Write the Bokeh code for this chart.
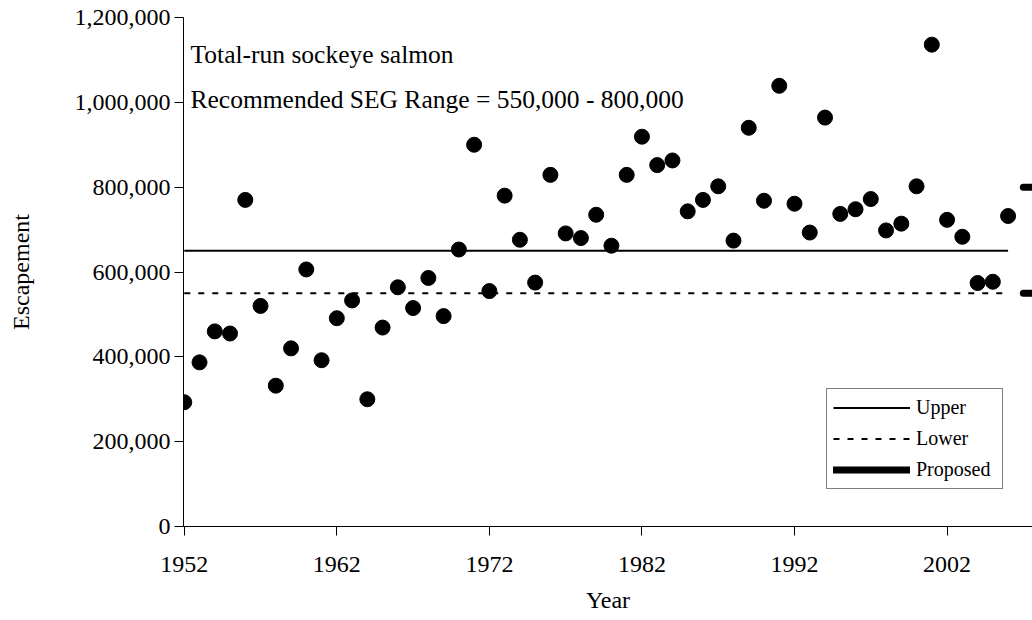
from bokeh.plotting import figure
from bokeh.models import (Range1d, FixedTicker, NumeralTickFormatter, Legend,
                          LegendItem, Label)
from bokeh.embed import file_html
from bokeh.resources import INLINE

# ---------------- data ----------------
years = list(range(1952, 2007))
escapement = [
    293000, 387000, 460000, 455000, 770000, 520000, 332000, 420000, 606000, 392000,
    491000, 533000, 300000, 469000, 564000, 515000, 586000, 496000, 653000, 900000,
    555000, 780000, 676000, 575000, 829000, 691000, 680000, 735000, 662000, 829000,
    919000, 852000, 863000, 743000, 770000, 802000, 674000, 940000, 768000, 1039000,
    761000, 693000, 964000, 737000, 748000, 772000, 698000, 714000, 802000, 1136000,
    723000, 683000, 574000, 577000, 732000,
]
upper_years = [1952, 2006]
upper_values = [650000, 650000]
lower_years = [1952, 2006]
lower_values = [550000, 550000]
proposed_start = [2007, 2007]
proposed_end = [2008, 2008]
proposed_values = [800000, 550000]

x_ticks = [1952, 1962, 1972, 1982, 1992, 2002]
y_ticks = [0, 200000, 400000, 600000, 800000, 1000000, 1200000]

title_line1 = "Total-run sockeye salmon"
title_line2 = "Recommended SEG Range = 550,000 - 800,000"

FONT = "Liberation Serif"

# ---------------- figure ----------------
p = figure(width=1032, height=620, output_backend="svg", toolbar_location=None,
           x_range=Range1d(1951.95, 2007.6), y_range=Range1d(0, 1200000),
           min_border_left=183, min_border_right=0, min_border_top=17,
           min_border_bottom=94)
p.outline_line_color = None
p.xgrid.grid_line_color = None
p.ygrid.grid_line_color = None
p.background_fill_color = "white"
p.border_fill_color = "white"

# axes
p.xaxis.ticker = FixedTicker(ticks=x_ticks)
p.yaxis.ticker = FixedTicker(ticks=y_ticks)
p.yaxis.formatter = NumeralTickFormatter(format="0,0")
for ax in (p.xaxis[0], p.yaxis[0]):
    ax.axis_line_color = "black"
    ax.axis_line_width = 1
    ax.major_tick_line_color = "black"
    ax.major_tick_out = 9
    ax.major_tick_in = 0
    ax.minor_tick_line_color = None
    ax.major_label_text_font = FONT
    ax.major_label_text_font_size = "24px"
    ax.major_label_text_color = "black"
    ax.axis_label_text_font = FONT
    ax.axis_label_text_font_size = "24px"
    ax.axis_label_text_font_style = "normal"
    ax.axis_label_text_color = "black"
p.xaxis.axis_label = "Year"
p.yaxis.axis_label = "Escapement"
p.xaxis.major_label_standoff = 21
p.xaxis.axis_label_standoff = 12
p.yaxis.major_label_standoff = 4
p.yaxis.axis_label_standoff = 38

# lines
r_upper = p.line(upper_years, upper_values, line_color="black", line_width=2)
r_lower = p.line(lower_years, lower_values, line_color="black", line_width=2,
                 line_dash="6 8")
r_prop = p.segment(x0=proposed_start, x1=proposed_end, y0=proposed_values,
                   y1=proposed_values, line_color="black", line_width=7,
                   line_cap="round")

# points
p.scatter(years, escapement, size=15, marker="circle", fill_color="black",
          line_color="black")

# annotations
p.add_layout(Label(x=7, y=472, x_units="screen", y_units="screen",
                   text=title_line1, text_font=FONT, text_font_size="25.5px",
                   text_color="black", text_baseline="alphabetic"))
p.add_layout(Label(x=7, y=427, x_units="screen", y_units="screen",
                   text=title_line2, text_font=FONT, text_font_size="25.5px",
                   text_color="black", text_baseline="alphabetic"))

legend = Legend(items=[LegendItem(label="Upper", renderers=[r_upper]),
                       LegendItem(label="Lower", renderers=[r_lower]),
                       LegendItem(label="Proposed", renderers=[r_prop])],
                location=(643, 37), orientation="vertical",
                glyph_width=77, glyph_height=25, label_height=25, label_width=80,
                label_standoff=6, spacing=6, padding=6, margin=0,
                label_text_font=FONT, label_text_font_size="20px",
                label_text_color="black",
                border_line_color="black", border_line_width=1,
                background_fill_color="white", background_fill_alpha=1)
p.add_layout(legend)

open("out.html", "w").write(file_html(p, INLINE))
